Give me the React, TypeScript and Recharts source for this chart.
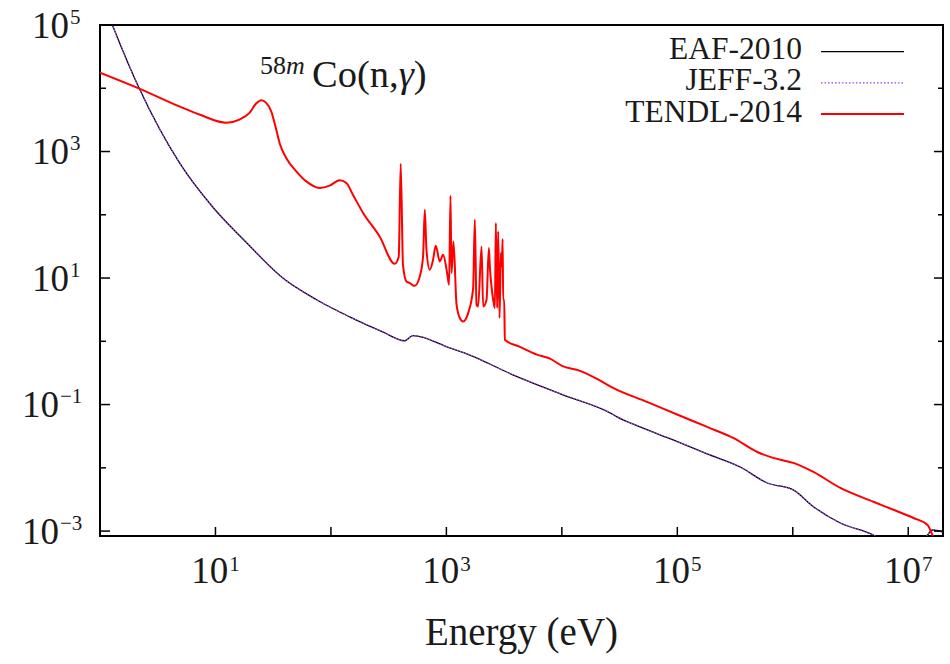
import React from 'react';
import { LineChart, Line, XAxis, YAxis, ReferenceArea, Legend } from 'recharts';

const FONT = "'Liberation Serif', 'DejaVu Serif', serif";
const INK = '#1a1a1a';
const LEFT_W = 100;

const energyTicks = [1, 10, 100, 1e3, 1e4, 1e5, 1e6, 1e7];
const xsTicks = [1e-3, 1e-2, 1e-1, 1, 10, 100, 1e3, 1e4, 1e5];
const energyDomain = [1, 2e7];
const xsDomain = [8.36e-4, 1e5];

const seriesNames = ['EAF-2010', 'JEFF-3.2', 'TENDL-2014'];
const seriesColors = ['#000000', '#a040f0', '#ff0000'];

// EAF-2010, energy (eV) and cross section (b)
const eafEnergy = [
  1.0, 1.28, 2.19, 4.87, 9.42, 18.6, 38.1, 75.1, 145, 281, 435, 511,
  1070, 1503, 3767, 10230, 26130, 30060, 47540, 91960, 181300, 350600, 601200,
  1009000, 1510000, 2580000, 4990000, 7000000, 12800000, 14700000, 16200000, 19800000,
];
const eafXs = [
  3.2e5, 1.0e5, 9900, 667, 134, 36.2, 10.1, 4.54, 2.44, 1.41, 1.02, 1.23,
  0.789, 0.634, 0.295, 0.1425, 0.074, 0.0639, 0.0443, 0.0276, 0.0166, 0.0103, 0.00576,
  0.00447, 0.00243, 0.00134, 8.65e-4, 6.0e-4, 6.0e-4, 8.7e-4, 1.04e-3, 9.7e-4,
];

// JEFF-3.2 sits on top of EAF-2010 at this scale
const jeffEnergy = eafEnergy;
const jeffXs = eafXs;

// TENDL-2014
const tendlEnergy = [
  1.0, 2.19, 4.87, 7.26, 12.4, 16.1, 19.7, 22.5, 24.9, 27.5, 30.4, 33.6, 35.9, 41.0, 50.1,
  61.2, 79.8, 97.5, 119, 136, 155, 190, 264, 357, 386.5, 402, 421, 451, 481.6, 514, 532,
  588, 628, 650, 672, 718, 767, 809, 877, 936, 1014, 1055, 1085, 1107, 1152, 1223, 1307,
  1396, 1543, 1705, 1763, 1824, 1883, 2016, 2082, 2227, 2332, 2379, 2541, 2629, 2682,
  2752, 2808, 2887, 2964, 3024, 3067, 3104, 3166, 3210, 4335, 6085, 7890, 10020, 14350,
  20150, 27730, 54700, 105700, 181300, 304500, 492000, 677000, 1009000, 1510000, 2580000,
  4990000, 7440000, 11100000, 14700000, 16300000, 17800000,
];
const tendlXs = [
  17700, 9890, 5160, 3840, 2850, 3200, 4085, 5730, 6460, 5870, 4325, 2220, 1368, 792, 486,
  337, 266, 289, 350, 318, 208, 107, 45.5, 16.8, 21.7, 643, 16, 8.84, 8.33, 7.64, 7.58,
  10.6, 22, 120, 28, 13.5, 19.5, 32.4, 18.3, 23.4, 12.1, 7.83, 200, 12.0, 37.9, 3.9, 2.33,
  2.06, 2.79, 6.95, 83.6, 3.78, 3.55, 31.6, 3.55, 4.54, 29.8, 15.3, 4.54, 3.35, 74.2,
  3.35, 54.6, 2.33, 24.9, 15.3, 41.4, 4.54, 4.54, 1.056, 0.818, 0.617, 0.533, 0.41, 0.341,
  0.255, 0.184, 0.11, 0.0665, 0.0443, 0.0297, 0.0178, 0.01435, 0.01196, 0.0086, 0.00481,
  0.00291, 0.00217, 0.00161, 0.00125, 8.4e-4, 5.7e-4,
];

const toPoints = (energy: number[], xs: number[]) =>
  energy.map((e, i) => ({ e, xs: xs[i] }));

const eafData = toPoints(eafEnergy, eafXs);
const jeffData = toPoints(jeffEnergy, jeffXs);
const tendlData = toPoints(tendlEnergy, tendlXs);

const decade = (v: number) => Math.round(Math.log10(v));

const Pow = ({ x, y, exp, anchor, supDy }: any) => (
  <text x={x} y={y} textAnchor={anchor} style={{ fontFamily: FONT }} fontSize={37} fill={INK}>
    10
    <tspan dx={1} dy={supDy} fontSize={21}>
      {exp < 0 ? '\u2212' + -exp : String(exp)}
    </tspan>
  </text>
);

const BottomTick = ({ x, y, payload }: any) => {
  const exp = decade(payload.value);
  return (
    <g>
      <line x1={x} y1={y} x2={x} y2={y - 9} stroke='#000' strokeWidth={1.5} />
      {exp % 2 !== 0 && <Pow x={x} y={y + 47} exp={exp} anchor='middle' supDy={-12} />}
    </g>
  );
};

const TopTick = ({ x, y }: any) => (
  <line x1={x} y1={y} x2={x} y2={y + 9} stroke='#000' strokeWidth={1.5} />
);

// left axis: labels placed from the axis edge (the plot's left side)
const LeftTick = ({ y, payload }: any) => {
  const exp = decade(payload.value);
  const major = exp % 2 !== 0;
  const x = LEFT_W;
  return (
    <g>
      <line x1={x} y1={y} x2={x + (major ? 10 : 6)} y2={y} stroke='#000' strokeWidth={1.5} />
      {major && (
        <Pow x={x - (exp < 0 ? 78 : 68)} y={y + 12.5} exp={exp} anchor='start' supDy={-14} />
      )}
    </g>
  );
};

const RightTick = ({ x, y, payload }: any) => {
  const major = decade(payload.value) % 2 !== 0;
  return <line x1={x} y1={y} x2={x - (major ? 9 : 5)} y2={y} stroke='#000' strokeWidth={1.5} />;
};

const renderLegend = () => (
  <svg width={950} height={130} style={{ fontFamily: FONT }}>
    {seriesNames.map((name, i) => (
      <g key={name}>
        <text x={802} y={58.5 + 31.5 * i} textAnchor='end' fontSize={31.5} fill={INK}>
          {name}
        </text>
        <line
          x1={821}
          x2={904}
          y1={51.7 + 31.2 * i}
          y2={51.7 + 31.2 * i}
          stroke={seriesColors[i]}
          strokeWidth={i === 2 ? 2 : 1.3}
          strokeDasharray={i === 1 ? '1.5 2' : undefined}
        />
      </g>
    ))}
  </svg>
);

const App = () => {
  return (
    <div
      style={{
        position: 'absolute',
        left: 0,
        top: 0,
        width: 950,
        height: 664,
        background: '#fff',
        fontFamily: FONT,
      }}
    >
      <LineChart width={950} height={664} margin={{ top: 0, right: 0, bottom: 0, left: 0 }}>
        <XAxis
          xAxisId={0}
          dataKey='e'
          type='number'
          scale='log'
          domain={energyDomain}
          allowDataOverflow
          ticks={energyTicks}
          interval={0}
          tick={BottomTick}
          tickLine={false}
          axisLine={false}
          tickSize={0}
          tickMargin={0}
          height={128}
          label={{
            value: 'Energy (eV)',
            position: 'insideBottom',
            offset: 19,
            fontSize: 39,
            fill: INK,
            style: { fontFamily: FONT },
          }}
        />
        <XAxis
          xAxisId='top'
          orientation='top'
          type='number'
          scale='log'
          domain={energyDomain}
          allowDataOverflow
          ticks={energyTicks}
          interval={0}
          tick={TopTick}
          tickLine={false}
          axisLine={false}
          tickSize={0}
          tickMargin={0}
          height={25}
        />
        <YAxis
          yAxisId={0}
          type='number'
          scale='log'
          domain={xsDomain}
          allowDataOverflow
          ticks={xsTicks}
          interval={0}
          tick={LeftTick}
          tickLine={false}
          axisLine={false}
          tickSize={0}
          tickMargin={0}
          width={LEFT_W}
        />
        <YAxis
          yAxisId='right'
          orientation='right'
          type='number'
          scale='log'
          domain={xsDomain}
          allowDataOverflow
          ticks={xsTicks}
          interval={0}
          tick={RightTick}
          tickLine={false}
          axisLine={false}
          tickSize={0}
          tickMargin={0}
          width={7}
        />
        <Legend
          layout='horizontal'
          verticalAlign='middle'
          align='center'
          wrapperStyle={{ position: 'absolute', left: 0, top: 0, width: 950, height: 130 }}
          content={renderLegend}
        />
        <Line
          data={eafData}
          dataKey='xs'
          name={seriesNames[0]}
          type='monotoneX'
          stroke={seriesColors[0]}
          strokeWidth={1.3}
          dot={false}
          activeDot={false}
          isAnimationActive={false}
        />
        <Line
          data={jeffData}
          dataKey='xs'
          name={seriesNames[1]}
          type='monotoneX'
          stroke={seriesColors[1]}
          strokeWidth={1.2}
          strokeDasharray='1.5 1.5'
          dot={false}
          activeDot={false}
          isAnimationActive={false}
        />
        <Line
          data={tendlData}
          dataKey='xs'
          name={seriesNames[2]}
          type='monotoneX'
          stroke={seriesColors[2]}
          strokeWidth={2}
          dot={false}
          activeDot={false}
          isAnimationActive={false}
        />
        <ReferenceArea
          x1={energyDomain[0]}
          x2={energyDomain[1]}
          y1={xsDomain[0]}
          y2={xsDomain[1]}
          fill='none'
          stroke='#000'
          strokeWidth={2}
        />
      </LineChart>
      <svg
        width={950}
        height={664}
        style={{ position: 'absolute', left: 0, top: 0, pointerEvents: 'none', fontFamily: FONT }}
      >
        <text x={260} y={74} fontSize={26} fill={INK}>
          58<tspan fontStyle='italic'>m</tspan>
        </text>
        <text x={312} y={87} fontSize={38.5} fill={INK}>
          Co(n,<tspan fontStyle='italic'>γ</tspan>)
        </text>
      </svg>
    </div>
  );
};

export default App;
